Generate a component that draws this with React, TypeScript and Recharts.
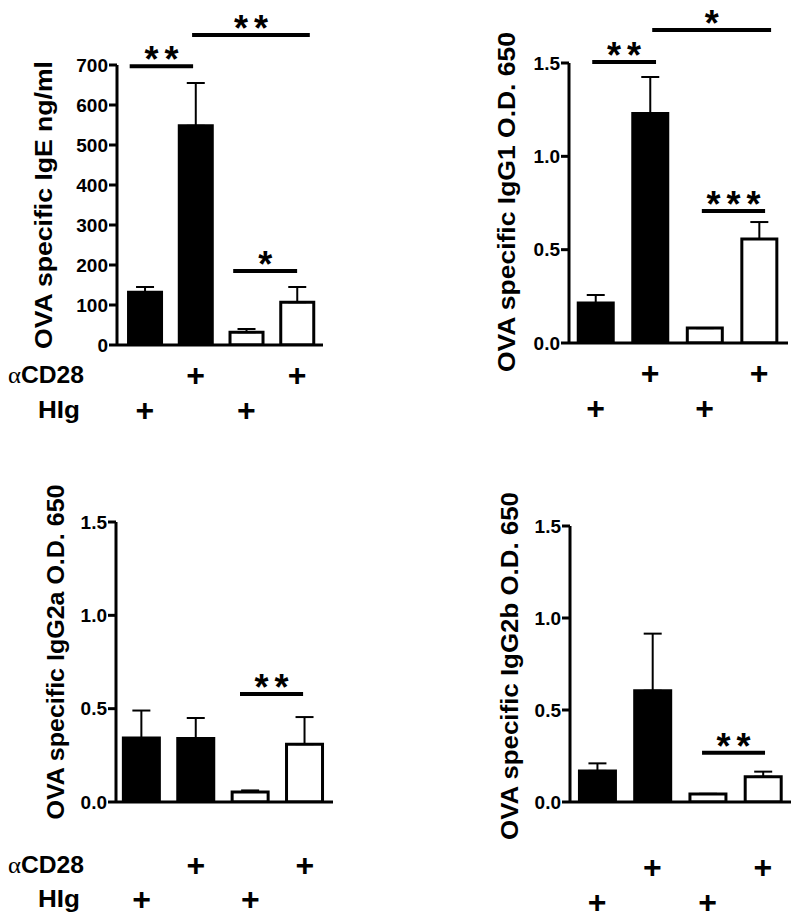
import React from "react";
import { Bar, BarChart, Cell, ErrorBar, ReferenceLine, XAxis, YAxis } from "recharts";

const FONT = '"Liberation Sans", Arial, Helvetica, sans-serif';

// four groups, left to right
const groups = [1, 2, 3, 4];
const aCD28 = [false, true, false, true];
const hIg = [true, false, true, false];
const barFill = ["#000", "#000", "#fff", "#fff"];

const igeMean = [132, 548, 32, 107];
const igeErr = [13, 107, 8, 38];
const igg1Mean = [0.214, 1.23, 0.08, 0.557];
const igg1Err = [0.043, 0.195, 0, 0.091];
const igg2aMean = [0.343, 0.34, 0.054, 0.31];
const igg2aErr = [0.147, 0.11, 0.008, 0.145];
const igg2bMean = [0.169, 0.605, 0.044, 0.137];
const igg2bErr = [0.041, 0.31, 0, 0.028];

const igeTicks = [0, 100, 200, 300, 400, 500, 600, 700];
const odTicks = [0, 0.5, 1, 1.5];

// significance bars: from / to in group units, y in data units
const igeSig = [
  { from: 0.7, to: 1.95, y: 697, text: "**" },
  { from: 1.93, to: 4.25, y: 775, text: "**" },
  { from: 2.74, to: 4.0, y: 185, text: "*" },
];
const igg1Sig = [
  { from: 0.94, to: 2.11, y: 1.505, text: "**" },
  { from: 2.04, to: 4.22, y: 1.677, text: "*" },
  { from: 2.95, to: 4.11, y: 0.707, text: "***" },
];
const igg2aSig = [{ from: 2.81, to: 3.97, y: 0.579, text: "**" }];
const igg2bSig = [{ from: 2.9, to: 4.04, y: 0.267, text: "**" }];

const panels = [
  { key: "ige", left: 0, top: 0, width: 340, height: 450, yw: 117, mt: 65, mr: 17, plotH: 280,
    xDomain: [0.45, 4.51], yDomain: [0, 700], yTicks: igeTicks, fmt: (v: number) => String(v),
    mean: igeMean, err: igeErr, sig: igeSig, barSize: 33, row1: 30, row2: 65 },
  { key: "igg1", left: 440, top: 0, width: 360, height: 450, yw: 129, mt: 63, mr: 12, plotH: 280,
    xDomain: [0.514, 4.53], yDomain: [0, 1.5], yTicks: odTicks, fmt: (v: number) => v.toFixed(1),
    mean: igg1Mean, err: igg1Err, sig: igg1Sig, barSize: 35, row1: 30, row2: 65 },
  { key: "igg2a", left: 0, top: 460, width: 340, height: 464, yw: 116, mt: 62, mr: 7, plotH: 280,
    xDomain: [0.53, 4.52], yDomain: [0, 1.5], yTicks: odTicks, fmt: (v: number) => v.toFixed(1),
    mean: igg2aMean, err: igg2aErr, sig: igg2aSig, barSize: 36, row1: 63, row2: 97 },
  { key: "igg2b", left: 440, top: 460, width: 360, height: 464, yw: 130, mt: 66, mr: 9, plotH: 276,
    xDomain: [0.51, 4.51], yDomain: [0, 1.5], yTicks: odTicks, fmt: (v: number) => v.toFixed(1),
    mean: igg2bMean, err: igg2bErr, sig: igg2bSig, barSize: 36, row1: 65, row2: 100 },
];

const yLabels = [
  { text: "OVA specific IgE ng/ml", x: 43, y: 205, len: 288 },
  { text: "OVA specific IgG1 O.D. 650", x: 506, y: 202, len: 340 },
  { text: "OVA specific IgG2a O.D. 650", x: 55, y: 652, len: 335 },
  { text: "OVA specific IgG2b O.D. 650", x: 509, y: 666, len: 348 },
];

const starLabel = (text: string) => (props: any) => {
  const vb = props.viewBox || {};
  const cx = (vb.x || 0) + (vb.width || 0) / 2;
  return (
    <text x={cx + 3} y={(vb.y || 0) + 6} textAnchor="middle" fontSize={36} letterSpacing={6} fontWeight="bold" fontFamily={FONT} fill="#000">
      {text}
    </text>
  );
};

function PlusTick(props: any) {
  const { x, y, payload, row1, row2 } = props;
  const i = Math.round(payload.value) - 1;
  const style = { fontSize: 32, fontWeight: "bold" as const, fontFamily: FONT, fill: "#000" };
  return (
    <g>
      {aCD28[i] && <text x={x} y={y + row1} textAnchor="middle" dominantBaseline="central" {...style}>+</text>}
      {hIg[i] && <text x={x} y={y + row2} textAnchor="middle" dominantBaseline="central" {...style}>+</text>}
    </g>
  );
}

function Panel({ cfg }: { cfg: any }) {
  const data = groups.map((g, i) => ({ g, v: cfg.mean[i], e: [0, cfg.err[i]] }));
  return (
    <div style={{ position: "absolute", left: cfg.left, top: cfg.top }}>
      <BarChart width={cfg.width} height={cfg.height} data={data} margin={{ top: cfg.mt, right: cfg.mr, bottom: 0, left: 0 }}>
        <XAxis
          dataKey="g"
          type="number"
          domain={cfg.xDomain}
          ticks={groups}
          interval={0}
          allowDataOverflow
          tickLine={false}
          tickSize={0}
          tickMargin={0}
          height={cfg.height - cfg.mt - cfg.plotH}
          axisLine={{ stroke: "#000", strokeWidth: 3 }}
          tick={(p: any) => <PlusTick {...p} row1={cfg.row1} row2={cfg.row2} />}
        />
        <YAxis
          type="number"
          domain={cfg.yDomain}
          ticks={cfg.yTicks}
          interval={0}
          allowDataOverflow
          width={cfg.yw}
          tickSize={8}
          tickMargin={1}
          tickFormatter={cfg.fmt}
          axisLine={{ stroke: "#000", strokeWidth: 3 }}
          tickLine={{ stroke: "#000", strokeWidth: 3 }}
          tick={{ fill: "#000", fontSize: 19, fontWeight: "bold", fontFamily: FONT }}
        />
        <Bar dataKey="v" barSize={cfg.barSize} stroke="#000" strokeWidth={3} isAnimationActive={false}>
          {data.map((d, i) => <Cell key={d.g} fill={barFill[i]} />)}
          <ErrorBar dataKey="e" direction="y" width={9} stroke="#000" strokeWidth={2} isAnimationActive={false} />
        </Bar>
        {cfg.sig.map((s: any, i: number) => (
          <ReferenceLine
            key={i}
            segment={[{ x: s.from, y: s.y }, { x: s.to, y: s.y }]}
            stroke="#000"
            strokeWidth={4}
            ifOverflow="visible"
            label={starLabel(s.text)}
          />
        ))}
      </BarChart>
    </div>
  );
}

export default function App() {
  return (
    <div style={{ position: "absolute", left: 0, top: 0, width: 800, height: 924, background: "#fff", fontFamily: FONT }}>
      {panels.map((p) => <Panel key={p.key} cfg={p} />)}
      <svg width={800} height={924} style={{ position: "absolute", left: 0, top: 0, pointerEvents: "none" }}>
        {yLabels.map((l) => (
          <text
            key={l.text}
            transform={`translate(${l.x},${l.y}) rotate(-90)`}
            textAnchor="middle"
            dominantBaseline="central"
            textLength={l.len}
            lengthAdjust="spacingAndGlyphs"
            fontSize={24}
            fontWeight="bold"
            fontFamily={FONT}
            fill="#000"
          >
            {l.text}
          </text>
        ))}
        {[375, 865].map((y) => (
          <text key={"a" + y} x={8} y={y} dominantBaseline="central" textLength={76} lengthAdjust="spacingAndGlyphs" fontSize={23} fontWeight="bold" fontFamily={FONT} fill="#000">
            <tspan fontFamily='"Liberation Serif", serif' fontWeight="normal">α</tspan>CD28
          </text>
        ))}
        {[410, 899].map((y) => (
          <text key={"h" + y} x={38} y={y} dominantBaseline="central" textLength={42} lengthAdjust="spacingAndGlyphs" fontSize={23} fontWeight="bold" fontFamily={FONT} fill="#000">
            HIg
          </text>
        ))}
      </svg>
    </div>
  );
}
